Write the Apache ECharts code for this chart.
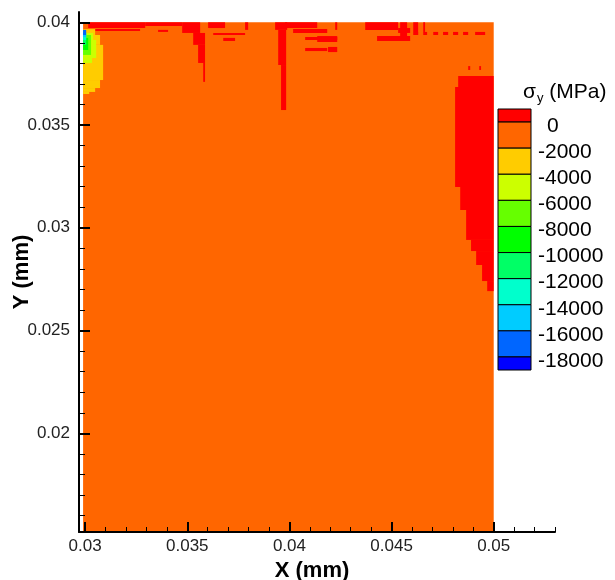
<!DOCTYPE html>
<html><head><meta charset="utf-8">
<script src="https://cdn.jsdelivr.net/npm/echarts@6/dist/echarts.min.js"></script>
<style>html,body{margin:0;padding:0;background:#fff}#c{width:615px;height:580px}</style>
</head><body><div id="c"></div>
<script>
// ---- contour levels (MPa) and their fill colours ----
const levels = [0, -2000, -4000, -6000, -8000, -10000, -12000, -14000, -16000, -18000];
const levelColors = ['#FF0000','#FF6600','#FFCC00','#CCFF00','#66FF00','#00FF00','#00FF66','#00FFCC','#00CCFF','#0066FF','#0000FF'];

// ---- axis ticks (mm) ----
const xMajorTicks = [0.03, 0.035, 0.04, 0.045, 0.05];
const xMinorTicks = [0.031,0.032,0.033,0.034,0.036,0.037,0.038,0.039,0.041,0.042,0.043,0.044,0.046,0.047,0.048,0.049,0.051,0.052,0.053];
const yMajorTicks = [0.02, 0.025, 0.03, 0.035, 0.04];
const yMinorTicks = [0.016,0.017,0.018,0.019,0.021,0.022,0.023,0.024,0.026,0.027,0.028,0.029,0.031,0.032,0.033,0.034,0.036,0.037,0.038,0.039];

// ---- field cells: [x0, x1, y0, y1, sigma_y (MPa)] ----
const baseField = [[0.0299, 0.05, 0.0150, 0.0400, -1000]];
const tensileTop = [
  [0.03015,0.03294,0.03972,0.0400,300],[0.03049,0.03269,0.03958,0.03967,300],
  [0.03294,0.03475,0.03982,0.0400,300],[0.03357,0.03406,0.03953,0.03963,300],
  [0.03475,0.03563,0.03948,0.0400,300],[0.03529,0.03587,0.03890,0.03948,300],
  [0.03553,0.03587,0.03802,0.03890,300],[0.03578,0.03587,0.03710,0.03802,300],
  [0.03602,0.03685,0.03972,0.0400,300],[0.03627,0.03783,0.03938,0.03948,300],
  [0.03676,0.03734,0.03909,0.03924,300],[0.03783,0.03798,0.03963,0.0400,300],
  [0.03930,0.03989,0.03963,0.0400,300],[0.03945,0.03984,0.03792,0.03963,300],
  [0.03959,0.03984,0.03573,0.03792,300],[0.03979,0.04136,0.03972,0.0400,300],
  [0.04018,0.04185,0.03948,0.03967,300],[0.04077,0.04234,0.03914,0.03928,300],
  [0.04136,0.04234,0.03904,0.03933,300],[0.04077,0.04185,0.03860,0.03875,300],
  [0.04189,0.04234,0.03855,0.03880,300],[0.04224,0.04234,0.03963,0.0400,300],
  [0.04371,0.04532,0.03963,0.0400,300],[0.04429,0.04591,0.03909,0.03933,300],
  [0.04532,0.04591,0.03948,0.03972,300],[0.04542,0.04576,0.03914,0.0400,300],
  [0.04606,0.04630,0.03938,0.0400,300],
  [0.04615,0.04630,0.03938,0.03953,300],[0.04655,0.04674,0.03938,0.03953,300],
  [0.04704,0.04728,0.03938,0.03953,300],[0.04752,0.04777,0.03938,0.03953,300],
  [0.04801,0.04826,0.03938,0.03953,300],[0.04850,0.04875,0.03938,0.03953,300],
  [0.04909,0.04958,0.03938,0.03953,300],[0.04655,0.04664,0.03953,0.0400,300],
  [0.04875,0.04885,0.03768,0.03787,300],[0.04929,0.04938,0.03768,0.03787,300]
];
const tensileRight = [
  [0.04826,0.05,0.03685,0.03739,300],[0.04811,0.05,0.03199,0.03685,300],
  [0.04836,0.05,0.03087,0.03199,300],[0.04865,0.05,0.02941,0.03087,300],
  [0.04889,0.05,0.02887,0.02941,300],[0.04914,0.05,0.02819,0.02887,300],
  [0.04943,0.05,0.02741,0.02819,300],[0.04968,0.05,0.02692,0.02741,300]
];
const cornerZone = [
  [0.0299,0.03049,0.03938,0.03967,-3000],[0.0299,0.03073,0.03890,0.03938,-3000],
  [0.0299,0.03088,0.03719,0.03890,-3000],[0.0299,0.03073,0.03680,0.03719,-3000],
  [0.0299,0.03049,0.03661,0.03680,-3000],[0.0299,0.03020,0.03651,0.03661,-3000],
  [0.0299,0.03039,0.03914,0.03948,-5000],[0.0299,0.03054,0.03826,0.03914,-5000],
  [0.0299,0.03034,0.03802,0.03826,-5000],
  [0.0299,0.03029,0.03841,0.03938,-7000],
  [0.0299,0.03015,0.03865,0.03924,-9000],
  [0.0299,0.03005,0.03890,0.03928,-11000],
  [0.0299,0.03005,0.03914,0.03943,-13000],
  [0.0299,0.03005,0.03928,0.03953,-15000],
  [0.0299,0.03005,0.03938,0.03963,-17000]
];

// ---- build ----
const fontFamily = 'Arial, "Liberation Sans", sans-serif';
const fmt = v => String(+(+v).toFixed(4));
const pieces = [{gt: levels[0], color: levelColors[0]}];
for (let i = 0; i < levels.length - 1; i++) pieces.push({gt: levels[i+1], lte: levels[i], color: levelColors[i+1]});
pieces.push({lte: levels[levels.length-1], color: levelColors[levelColors.length-1]});

const legendEdges = [levels[0] + 1000].concat(levels, [levels[levels.length-1] - 1000]);
const legendCells = [];
for (let i = 0; i < legendEdges.length - 1; i++) {
  legendCells.push([0, 1, legendEdges[i+1], legendEdges[i], (legendEdges[i] + legendEdges[i+1]) / 2]);
}

function cellItem(stroke) {
  return function (params, api) {
    const p0 = api.coord([api.value(0), api.value(3)]);
    const p1 = api.coord([api.value(1), api.value(2)]);
    const cs = params.coordSys;
    const shape = echarts.graphic.clipRectByRect(
      {x: p0[0], y: p0[1], width: p1[0] - p0[0], height: p1[1] - p0[1]},
      {x: cs.x, y: cs.y, width: cs.width, height: cs.height});
    if (!shape) return null;
    return {type: 'rect', shape: shape,
      style: stroke ? {fill: api.visual('color'), stroke: '#000', lineWidth: 1} : {fill: api.visual('color')}};
  };
}

const chart = echarts.init(document.getElementById('c'), null, {renderer: 'canvas'});
chart.setOption({
  animation: false,
  backgroundColor: '#fff',
  title: {
    text: '{s|σ}{sub|y}{s| (MPa)}', left: 518, top: 75,
    textStyle: {fontWeight: 'normal', rich: {
      s: {fontSize: 21, fontFamily, fontWeight: 'normal', color: '#000'},
      sub: {fontSize: 13, fontFamily, fontWeight: 'normal', color: '#000', padding: [12, 0, 0, 1]}
    }}
  },
  grid: [
    {left: 79, right: 60, top: 12, bottom: 48, outerBoundsMode: 'none'},
    {left: 498, width: 33, top: 109, height: 261, outerBoundsMode: 'none'}
  ],
  visualMap: {type: 'piecewise', show: false, dimension: 4, seriesIndex: [0, 1], pieces},
  xAxis: [
    {gridIndex: 0, type: 'value', min: 0.0297, max: 0.053, position: 'bottom', z: 10,
     axisLine: {show: true, onZero: false, lineStyle: {color: '#000', width: 2}},
     axisTick: {show: true, inside: true, length: 10, customValues: xMajorTicks, lineStyle: {color: '#000', width: 2}},
     axisLabel: {customValues: xMajorTicks, formatter: fmt, fontSize: 17, color: '#222', margin: 6, fontFamily},
     splitLine: {show: false},
     name: 'X (mm)', nameLocation: 'middle', nameGap: 25,
     nameTextStyle: {fontSize: 22, fontWeight: 'bold', color: '#000', fontFamily, padding: [0, 10, 0, 0]}},
    {gridIndex: 0, type: 'value', min: 0.0297, max: 0.053, position: 'bottom', z: 10,
     axisLine: {show: false, onZero: false},
     axisTick: {show: true, inside: true, length: 5, customValues: xMinorTicks, lineStyle: {color: '#000', width: 1}},
     axisLabel: {show: false}, splitLine: {show: false}},
    {gridIndex: 1, type: 'value', min: 0, max: 1, show: false}
  ],
  yAxis: [
    {gridIndex: 0, type: 'value', min: 0.0152, max: 0.0405, position: 'left', z: 10,
     axisLine: {show: true, onZero: false, lineStyle: {color: '#000', width: 2}},
     axisTick: {show: true, inside: true, length: 11, customValues: yMajorTicks, lineStyle: {color: '#000', width: 2}},
     axisLabel: {customValues: yMajorTicks, formatter: fmt, fontSize: 17, color: '#222', margin: 9, fontFamily},
     splitLine: {show: false},
     name: 'Y (mm)', nameLocation: 'middle', nameGap: 46, nameMoveOverlap: false,
     nameTextStyle: {fontSize: 22, fontWeight: 'bold', color: '#000', fontFamily}},
    {gridIndex: 0, type: 'value', min: 0.0152, max: 0.0405, position: 'left', z: 10,
     axisLine: {show: false, onZero: false},
     axisTick: {show: true, inside: true, length: 6, customValues: yMinorTicks, lineStyle: {color: '#000', width: 1}},
     axisLabel: {show: false}, splitLine: {show: false}},
    {gridIndex: 1, type: 'value', min: -19000, max: 1000, position: 'right',
     axisLine: {show: false}, axisTick: {show: false}, splitLine: {show: false},
     axisLabel: {customValues: levels, margin: 7,
       formatter: v => (v === 0 ? '{z|0}' : '{n|' + v + '}'),
       rich: {
         z: {fontSize: 21, fontFamily, color: '#000', padding: [8, 0, 0, 9]},
         n: {fontSize: 21, fontFamily, color: '#000', padding: [8, 0, 0, 0]}
       }}}
  ],
  series: [
    {type: 'custom', xAxisIndex: 0, yAxisIndex: 0, z: 1, renderItem: cellItem(false),
     encode: {x: [0, 1], y: [2, 3]},
     data: baseField.concat(tensileTop, tensileRight, cornerZone)},
    {type: 'custom', xAxisIndex: 2, yAxisIndex: 2, renderItem: cellItem(true),
     encode: {x: [0, 1], y: [2, 3]}, data: legendCells}
  ]
});
</script></body></html>
